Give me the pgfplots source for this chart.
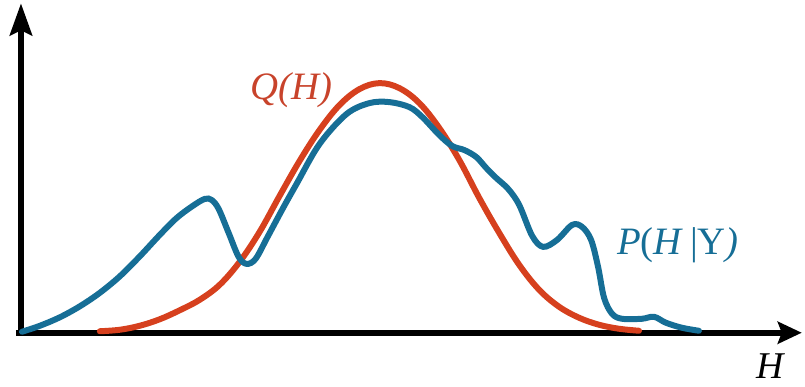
\documentclass[border=0pt]{standalone}
\usepackage{pgfplots}
\pgfplotsset{compat=1.18}
\usepackage{fontspec}
\setmainfont{Liberation Serif}
\usetikzlibrary{arrows.meta}
\definecolor{qred}{HTML}{D6401E}
\definecolor{qtext}{HTML}{C8432B}
\definecolor{pblue}{HTML}{166E96}
\begin{document}
\begin{tikzpicture}
\begin{axis}[x=1bp,y=1bp,xmin=0,xmax=805,ymin=0,ymax=387,y dir=reverse,
  hide axis,clip=false,anchor=origin]
\path (axis cs:0,0) rectangle (axis cs:805,387);
% axes
\draw[line width=6.5bp,-{Stealth[length=32bp,width=22bp,inset=5bp]}] (axis cs:21,336) -- (axis cs:21,3);
\draw[line width=6.5bp,-{Stealth[length=24bp,width=22bp,inset=4bp]}] (axis cs:16,333) -- (axis cs:803,333);
% Q(H)
\addplot[qred,line width=6bp,smooth,tension=0.6,line cap=round] coordinates {
(100,331.5)(120,330)(140,326)(160,319.5)(180,310.5)(200,300)(220,285)(240,262)(260,232)(280,196)(300,161)(320,130)(340,105)(360,89)(380,83)(400,88)(420,103)(440,128)(460,160)(480,198)(500,233)(520,265)(540,290)(560,307)(580,318)(600,325)(620,329)(640,331)};
% P(H|Y)
\addplot[pblue,line width=6bp,smooth,tension=0.55,line cap=round] coordinates {
(22,332)(40,326)(60,317.5)(80,306.5)(100,293)(120,276.5)(140,256.5)(160,235)(177,218)(193,206)(205,199)(212,200)(219,209)(229,233)(239,257)(247,264)(256,259)(268,237)(283,209)(297,184)(320,144)(347,114)(370,103)(390,102)(410,107)(423,117)(440,135)(453,146)(465,150)(477,157)(487,168)(497,178)(509,189)(520,205)(533,236)(544,247)(558,240)(573,225)(583,227)(592,240)(599,267)(605,298)(613,314)(623,319)(643,319)(655,317)(667,323)(683,328)(700,331)};
\node[qtext,font=\fontsize{39}{44}\selectfont\itshape] at (axis cs:292,90) {Q(H)};
\node[pblue,font=\fontsize{39}{44}\selectfont] at (axis cs:679,245) {\textit{P}(\textit{H}\,|Y\textit{)}};
\node[black,font=\fontsize{38}{44}\selectfont\itshape] at (axis cs:771,366) {H};
\end{axis}
\end{tikzpicture}
\end{document}
